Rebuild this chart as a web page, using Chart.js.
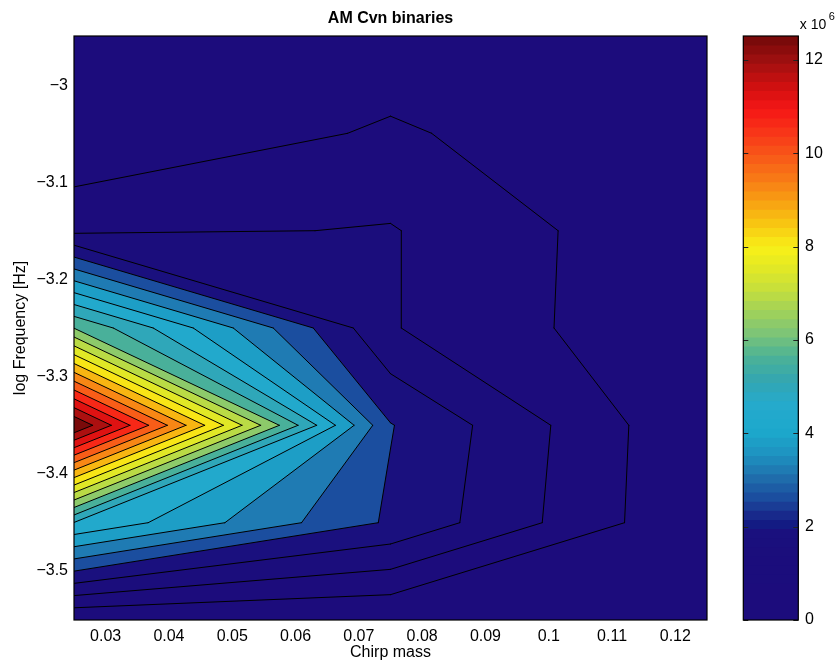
<!DOCTYPE html>
<html><head><meta charset="utf-8">
<script src="https://cdn.jsdelivr.net/npm/chart.js@4.4.1/dist/chart.umd.min.js"></script>
<style>
html,body{margin:0;padding:0;background:#fff;}
#wrap{position:relative;width:838px;height:666px;overflow:hidden;background:#fff;}
#main{position:absolute;left:0;top:0;}
#cbar{position:absolute;left:710px;top:0;}
</style></head><body>
<div id="wrap"><canvas id="main" width="838" height="666"></canvas><canvas id="cbar" width="128" height="666"></canvas></div>
<script>
// ---------------- data ----------------
const chirpMass = [0.025, 0.075, 0.125];
const logFrequency = [-3.5507, -3.4504, -3.35, -3.2497, -3.1494, -3.049, -2.9487];
// density (x 10^6) along logFrequency, one array per chirp-mass column
const densityAt0025 = [0, 4.746, 12.51, 5.945, 1.060, 0.028, 0];
const densityAt0075 = [0, 2.288, 2.413, 1.233, 1.232, 0.685, 0.179];
const densityAt0125 = [0, 0, 0, 0, 0.031, 0, 0];
// contour levels (x 10^6)
const contourLevels = [0.596, 1.191, 1.787, 2.383, 2.979, 3.574, 4.170, 4.766, 5.361, 5.957,
                       6.553, 7.149, 7.744, 8.340, 8.936, 9.531, 10.127, 10.723, 11.319, 11.914];
const xTicks = [0.03, 0.04, 0.05, 0.06, 0.07, 0.08, 0.09, 0.10, 0.11, 0.12];
const xTickLabels = ['0.03','0.04','0.05','0.06','0.07','0.08','0.09','0.1','0.11','0.12'];
const yTicks = [-3.5, -3.4, -3.3, -3.2, -3.1, -3.0];
const yTickLabels = ['\u22123.5','\u22123.4','\u22123.3','\u22123.2','\u22123.1','\u22123'];
const cbarTicks = [0, 2, 4, 6, 8, 10, 12];
const cbarTickLabels = ['0','2','4','6','8','10','12'];
const cbarMin = 0, cbarMax = 12.51;

// ---------------- styling ----------------
const FONT = "'Liberation Sans', Arial, Helvetica, sans-serif";
const cmapStops = [[0,'#1c0c7c'],[0.10,'#1b0d7c'],[0.145,'#1a107e'],[0.16,'#121c84'],[0.18,'#1a2e8e'],
  [0.20,'#1a489c'],[0.24,'#1f6eac'],[0.28,'#1e92c0'],[0.32,'#1ca8cc'],[0.37,'#26aacc'],[0.41,'#34a6b0'],
  [0.45,'#4cb296'],[0.49,'#7cc478'],[0.53,'#a2d258'],[0.57,'#c8e03a'],[0.61,'#e6ea22'],[0.64,'#f8f018'],
  [0.68,'#f8c812'],[0.72,'#f8a012'],[0.76,'#f87a16'],[0.80,'#f85818'],[0.84,'#f83618'],[0.88,'#f51616'],
  [0.92,'#d01010'],[0.96,'#a41010'],[1,'#7a0a0a']];
function hexRgb(h){return [parseInt(h.substr(1,2),16),parseInt(h.substr(3,2),16),parseInt(h.substr(5,2),16)];}
function cmapAt(t){
  for(let i=1;i<cmapStops.length;i++){
    if(t<=cmapStops[i][0]){
      const [t0,c0]=cmapStops[i-1],[t1,c1]=cmapStops[i];
      const f=(t-t0)/(t1-t0), a=hexRgb(c0), b=hexRgb(c1);
      return 'rgb('+a.map((v,k)=>Math.round(v+(b[k]-v)*f)).join(',')+')';
    }
  }
  return cmapStops[cmapStops.length-1][1];
}
const cmap = Array.from({length:64},(_,i)=>cmapAt(i/63));
function bandColor(k){ return cmap[Math.round(k/contourLevels.length*(cmap.length-1))]; }

const columns = [densityAt0025, densityAt0075, densityAt0125];
const gridPoints = [];
chirpMass.forEach((m,i)=>logFrequency.forEach((f,j)=>gridPoints.push({x:m,y:f,v:columns[i][j]})));

function interp(P,Q,L){const t=(L-P.z)/(Q.z-P.z);return {x:P.x+(Q.x-P.x)*t,y:P.y+(Q.y-P.y)*t,z:L};}
function clipAbove(poly,L){
  const out=[];
  for(let k=0;k<poly.length;k++){
    const P=poly[k],Q=poly[(k+1)%poly.length];
    const pin=P.z>=L,qin=Q.z>=L;
    if(pin&&qin) out.push(Q);
    else if(pin&&!qin) out.push(interp(P,Q,L));
    else if(!pin&&qin){out.push(interp(P,Q,L));out.push(Q);}
  }
  return out;
}
function segments(c,L){
  const pts=[];
  for(let k=0;k<4;k++){const P=c[k],Q=c[(k+1)%4];if((P.z>=L)!==(Q.z>=L))pts.push(interp(P,Q,L));}
  const segs=[];
  if(pts.length===2)segs.push([pts[0],pts[1]]);
  else if(pts.length===4){segs.push([pts[0],pts[1]]);segs.push([pts[2],pts[3]]);}
  return segs;
}

const contourPlugin = {
  id:'contourf',
  beforeDatasetsDraw(chart){
    const {ctx, chartArea:a, scales:{x,y}} = chart;
    const px = chirpMass.map(v=>x.getPixelForValue(v));
    const py = logFrequency.map(v=>y.getPixelForValue(v));
    ctx.save();
    ctx.beginPath(); ctx.rect(a.left,a.top,a.right-a.left,a.bottom-a.top); ctx.clip();
    ctx.fillStyle = bandColor(0);
    ctx.fillRect(px[0], py[py.length-1], px[px.length-1]-px[0], py[0]-py[py.length-1]);
    const cells=[];
    for(let i=0;i<px.length-1;i++)for(let j=0;j<py.length-1;j++){
      cells.push([{x:px[i],y:py[j],z:columns[i][j]},{x:px[i+1],y:py[j],z:columns[i+1][j]},
                  {x:px[i+1],y:py[j+1],z:columns[i+1][j+1]},{x:px[i],y:py[j+1],z:columns[i][j+1]}]);
    }
    contourLevels.forEach((L,k)=>{
      ctx.beginPath();
      for(const c of cells){
        const p=clipAbove(c,L);
        if(p.length>=3){ctx.moveTo(p[0].x,p[0].y);for(let n=1;n<p.length;n++)ctx.lineTo(p[n].x,p[n].y);ctx.closePath();}
      }
      ctx.fillStyle=bandColor(k+1); ctx.fill();
    });
    ctx.strokeStyle='#000'; ctx.lineWidth=1; ctx.lineCap='round'; ctx.lineJoin='round';
    ctx.beginPath();
    contourLevels.forEach(L=>{
      for(const c of cells) for(const s of segments(c,L)){ctx.moveTo(s[0].x,s[0].y);ctx.lineTo(s[1].x,s[1].y);}
    });
    ctx.stroke();
    ctx.restore();
  },
  afterDraw(chart){
    const {ctx, chartArea:a} = chart;
    ctx.save(); ctx.strokeStyle='#000'; ctx.lineWidth=1.2;
    ctx.strokeRect(a.left,a.top,a.right-a.left,a.bottom-a.top); ctx.restore();
  }
};

new Chart(document.getElementById('main'), {
  type:'scatter',
  data:{datasets:[{data:gridPoints, pointRadius:0, pointHoverRadius:0, showLine:false}]},
  options:{
    responsive:false, animation:false, events:[],
    layout:{padding:{left:0,right:131,top:0,bottom:0}},
    plugins:{legend:{display:false},tooltip:{enabled:false},
      title:{display:true,text:'AM Cvn binaries',fullSize:false,color:'#000',
        font:{family:FONT,size:16,weight:'bold'},padding:{top:8.5,bottom:8.3}}},
    scales:{
      x:{type:'linear',min:chirpMass[0],max:chirpMass[chirpMass.length-1],
        afterBuildTicks(s){s.ticks=xTicks.map(v=>({value:v}));},
        afterFit(s){s.height=46;},
        ticks:{autoSkip:false,maxRotation:0,padding:6.5,color:'#000',font:{family:FONT,size:16},
          callback:(v,i)=>xTickLabels[i]},
        grid:{display:false,drawTicks:false},border:{display:false},
        title:{display:true,text:'Chirp mass',color:'#000',font:{family:FONT,size:16},padding:{top:0,bottom:3.5}}},
      y:{type:'linear',min:logFrequency[0],max:logFrequency[logFrequency.length-1],
        afterBuildTicks(s){s.ticks=yTicks.map(v=>({value:v}));},
        afterFit(s){s.width=74;},
        ticks:{autoSkip:false,padding:6,color:'#000',font:{family:FONT,size:16},
          callback:(v,i)=>yTickLabels[i]},
        grid:{display:false,drawTicks:false},border:{display:false},
        title:{display:true,text:'log Frequency [Hz]',color:'#000',font:{family:FONT,size:16},padding:{top:11.4,bottom:0}}}
    }
  },
  plugins:[contourPlugin]
});

// ---------------- colour bar ----------------
const cbEdges = cmap.map((_,i)=>cbarMin+(cbarMax-cbarMin)*i/cmap.length);
const cbarPlugin = {
  id:'cbarDeco',
  afterDraw(chart){
    const {ctx, chartArea:a, scales:{y}} = chart;
    ctx.save();
    ctx.strokeStyle='#222'; ctx.lineWidth=1;
    cbarTicks.forEach(v=>{
      const p=Math.round(y.getPixelForValue(v))+0.5;
      ctx.beginPath(); ctx.moveTo(a.left,p); ctx.lineTo(a.left+5,p); ctx.moveTo(a.right-5,p); ctx.lineTo(a.right,p); ctx.stroke();
    });
    ctx.strokeStyle='#000'; ctx.lineWidth=1.2;
    ctx.strokeRect(a.left,a.top,a.right-a.left,a.bottom-a.top);
    ctx.fillStyle='#000'; ctx.textBaseline='alphabetic'; ctx.textAlign='left';
    ctx.font='14px '+FONT; ctx.fillText('x 10', a.right+1.5, 29);
    ctx.font='11px '+FONT; ctx.fillText('6', a.right+30.5, 20);
    ctx.restore();
  }
};
new Chart(document.getElementById('cbar'), {
  type:'bar',
  data:{labels:['c'],datasets:cmap.map((c,i)=>({data:[[cbEdges[i],cbarMax]],backgroundColor:c,borderWidth:0,
    order:cmap.length-1-i,grouped:false,barPercentage:1,categoryPercentage:1}))},
  options:{
    responsive:false, animation:false, events:[],
    layout:{padding:{left:33.3,top:36,bottom:46,right:0}},
    plugins:{legend:{display:false},tooltip:{enabled:false}},
    scales:{
      x:{display:false},
      y:{position:'right',min:cbarMin,max:cbarMax,
        afterBuildTicks(s){s.ticks=cbarTicks.map(v=>({value:v}));},
        afterFit(s){s.width=39.7;},
        ticks:{padding:6.7,color:'#000',font:{family:FONT,size:16},callback:(v,i)=>cbarTickLabels[i]},
        grid:{display:false,drawTicks:false},border:{display:false}}
    }
  },
  plugins:[cbarPlugin]
});
</script></body></html>
